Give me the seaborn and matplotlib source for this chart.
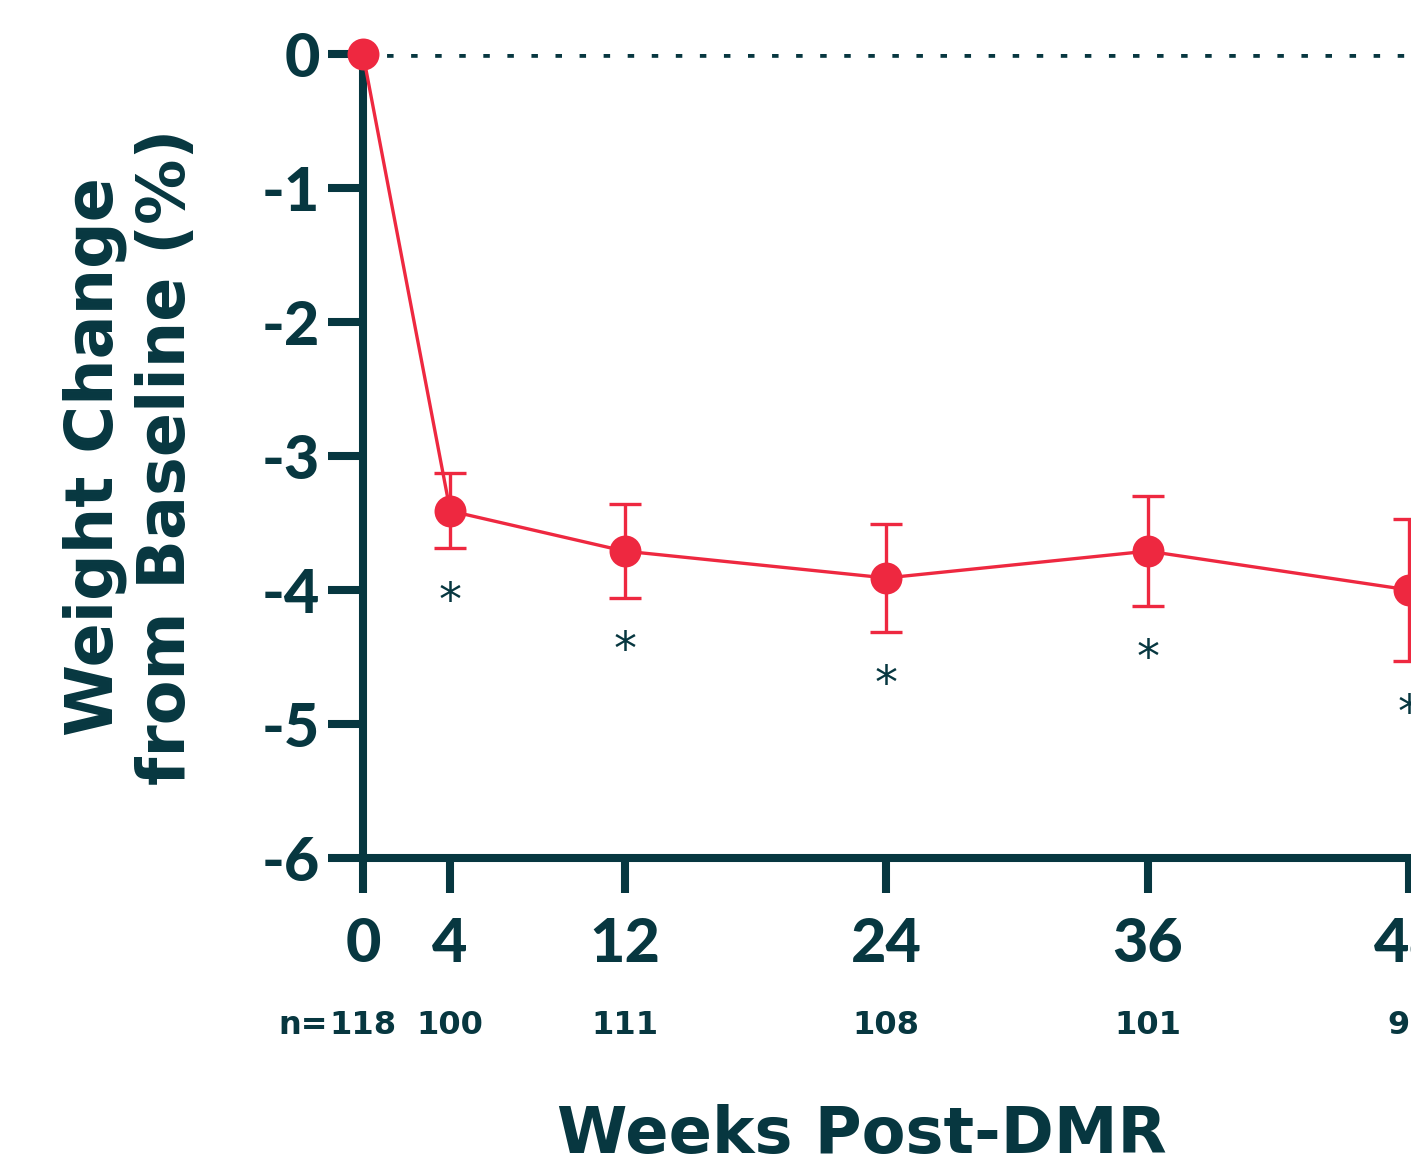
import numpy as np
import pandas as pd
import matplotlib
matplotlib.use("Agg")
import matplotlib.pyplot as plt
import seaborn as sns

# data
weeks = [0, 4, 12, 24, 36, 48]
weight_change = [0.0, -3.41, -3.71, -3.91, -3.71, -4.0]
sem = [0.0, 0.28, 0.35, 0.40, 0.41, 0.53]
n_prefix = "n="
n_values = ["118", "100", "111", "108", "101", "97"]
significant = [False, True, True, True, True, True]
y_ticks = [0, -1, -2, -3, -4, -5, -6]

DARK = "#073740"
RED = "#ee2840"

sns.set_style("white")
plt.rcParams["font.family"] = ["DejaVu Sans"]

df = pd.DataFrame({"week": weeks, "change": weight_change, "sem": sem})

fig = plt.figure(figsize=(14.11, 11.63), dpi=100)
W, H = 1411, 1163
# axes runs past the right edge like the cropped original
ax = fig.add_axes([363 / W, 1 - 858 / H, (1453 - 363) / W, (858 - 54) / H])

# dotted baseline at zero (short square dashes read as dots)
ax.axhline(0, color=DARK, lw=5.5, linestyle=(0, (0.85, 2.3)),
           dash_capstyle="butt", zorder=1)

ax.errorbar(df["week"][1:], df["change"][1:], yerr=df["sem"][1:], fmt="none",
            ecolor=RED, elinewidth=2.4, capsize=11.5, capthick=2.4, zorder=3,
            clip_on=False)
sns.lineplot(data=df, x="week", y="change", ax=ax, color=RED, lw=2.4,
             marker="o", markersize=23, markeredgewidth=0, zorder=4,
             clip_on=False)

# significance stars below the error bars
for w, m, s, sig in zip(weeks, weight_change, sem, significant):
    if sig:
        ax.text(w, m - s - 0.40, "*", ha="center", va="center", fontsize=33,
                color=DARK, fontfamily="DejaVu Sans")

ax.set_xlim(0, 50)
ax.set_ylim(-6, 0)
ax.set_xticks(weeks)
ax.set_yticks(y_ticks)
tick_font = {"family": "Lato", "weight": 900, "size": 44}
ax.set_xticklabels([str(w) for w in weeks], fontdict=tick_font, color=DARK)
ax.set_yticklabels([str(t) for t in y_ticks], fontdict=tick_font, color=DARK)

for side in ["top", "right"]:
    ax.spines[side].set_visible(False)
for side in ["left", "bottom"]:
    ax.spines[side].set_color(DARK)
    ax.spines[side].set_linewidth(5.8)
ax.tick_params(axis="both", direction="out", length=25, width=5.8, color=DARK,
               bottom=True, left=True)
ax.tick_params(axis="x", pad=17)
ax.tick_params(axis="y", pad=6)
ax.set_xlabel("")
ax.set_ylabel("")

# sample sizes under the tick labels
xtrans = ax.get_xaxis_transform()
for i, (w, val) in enumerate(zip(weeks, n_values)):
    ax.text(w, -0.208, val, transform=xtrans, ha="center",
            va="center", fontsize=23, fontweight="bold", color=DARK)
    if i == 0:
        ax.annotate(n_prefix, (w, -0.208), xycoords=xtrans,
                    xytext=(-25, 0), textcoords="offset points",
                    ha="right", va="center", fontsize=23,
                    fontweight="bold", color=DARK)

fig.text(131 / W, 1 - 457 / H, "Weight Change\nfrom Baseline (%)",
         rotation=90, ha="center", va="center", fontsize=47,
         fontweight="bold", color=DARK, linespacing=1.15)
fig.text(862 / W, 1 - 1135 / H, "Weeks Post-DMR", ha="center", va="center",
         fontsize=46, fontweight="bold", color=DARK)

fig.savefig("out.png", dpi=100)
